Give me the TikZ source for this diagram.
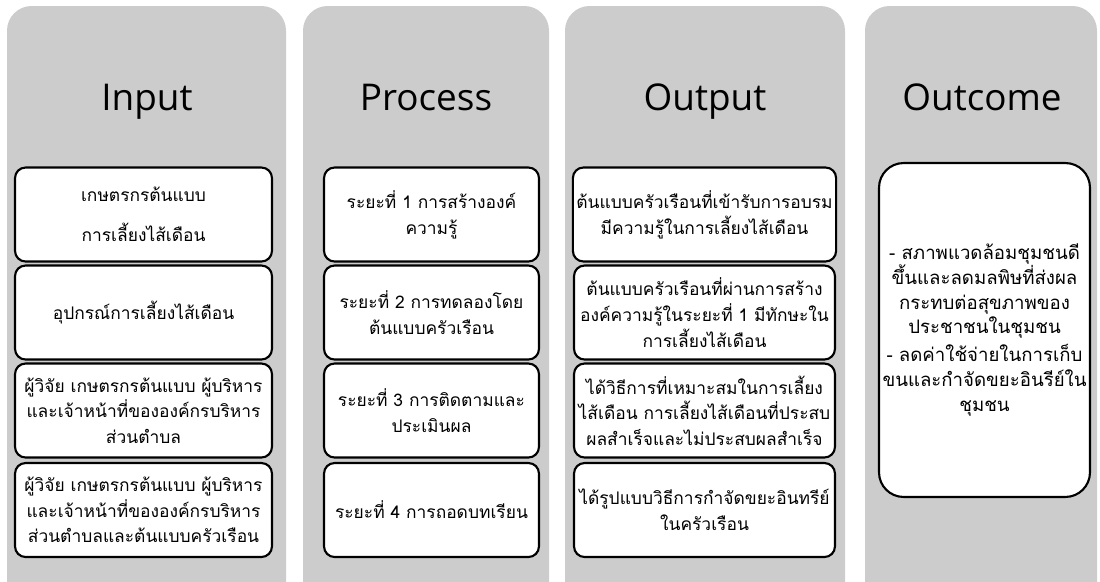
\documentclass[tikz,border=0pt]{standalone}
\usepackage{fontspec}
\setmainfont{Open Sans}
\newfontfamily\thaifont[Script=Thai]{Loma}
\definecolor{panelgray}{RGB}{204,204,204}
\tikzset{
  panel/.style={fill=panelgray, rounded corners=14pt},
  infobox/.style={draw=black, line width=1.2pt, fill=white, rounded corners=6pt,
    align=center, inner sep=2pt, minimum height=1.88cm,
    font=\thaifont\fontsize{9.9}{14.6}\selectfont},
  coltitle/.style={anchor=base, font=\fontsize{21}{25}\selectfont}
}
\begin{document}
\begin{tikzpicture}[x=0.02cm, y=-0.02cm]
%frame
	\path[use as bounding box] (0,0) rectangle (1100,582);
	\clip (0,0) rectangle (1100,582);

%panels
	\foreach \xa/\xb in {7/286, 303/549, 565/845, 865/1097}{
		\fill[panel] (\xa, 6) rectangle (\xb, 620);
	}

%titles
	\foreach \cx/\name/\txt in {147/tIn/Input, 426/tPro/Process, 705/tOut/Output, 982/tOc/Outcome}{
		\node[coltitle] (\name) at (\cx, 110) {\txt};
	}

%boxes
	\foreach \cx/\cy/\w/\name/\txt in {
		143.5/214.5/5.14/inA/{เกษตรกรต้นแบบ\\[8pt]การเลี้ยงไส้เดือน},
		143.5/312.5/5.14/inB/{อุปกรณ์การเลี้ยงไส้เดือน},
		143.5/410.5/5.14/inC/{ผู้วิจัย เกษตรกรต้นแบบ ผู้บริหาร\\และเจ้าหน้าที่ขององค์กรบริหาร\\ส่วนตำบล},
		143.5/510/5.14/inD/{ผู้วิจัย เกษตรกรต้นแบบ ผู้บริหาร\\และเจ้าหน้าที่ขององค์กรบริหาร\\ส่วนตำบลและต้นแบบครัวเรือน},
		431.5/214.5/4.3/prA/{ระยะที่ 1 การสร้างองค์\\ความรู้},
		431.5/312.5/4.3/prB/{ระยะที่ 2 การทดลองโดย\\ต้นแบบครัวเรือน},
		431.5/410.5/4.3/prC/{ระยะที่ 3 การติดตามและ\\ประเมินผล},
		431.5/510/4.3/prD/{ระยะที่ 4 การถอดบทเรียน},
		704.5/214.5/5.22/outA/{ต้นแบบครัวเรือนที่เข้ารับการอบรม\\มีความรู้ในการเลี้ยงไส้เดือน},
		704.5/312.5/5.22/outB/{ต้นแบบครัวเรือนที่ผ่านการสร้าง\\องค์ความรู้ในระยะที่ 1 มีทักษะใน\\การเลี้ยงไส้เดือน},
		704.5/410.5/5.22/outC/{ได้วิธีการที่เหมาะสมในการเลี้ยง\\ไส้เดือน การเลี้ยงไส้เดือนที่ประสบ\\ผลสำเร็จและไม่ประสบผลสำเร็จ},
		704.5/510/5.22/outD/{ได้รูปแบบวิธีการกำจัดขยะอินทรีย์\\ในครัวเรือน}}{
		\node[infobox, minimum width=\w cm] (\name) at (\cx, \cy) {\txt};
	}

%outcome
	\node[infobox, rounded corners=14pt, minimum width=4.22cm, minimum height=6.68cm,
		font=\thaifont\fontsize{10.6}{14}\selectfont] (ocA) at (984.5, 330)
		{- สภาพแวดล้อมชุมชนดี\\ขึ้นและลดมลพิษที่ส่งผล\\กระทบต่อสุขภาพของ\\ประชาชนในชุมชน\\[2pt]- ลดค่าใช้จ่ายในการเก็บ\\ขนและกำจัดขยะอินรีย์ใน\\ชุมชน};

\end{tikzpicture}
\end{document}
